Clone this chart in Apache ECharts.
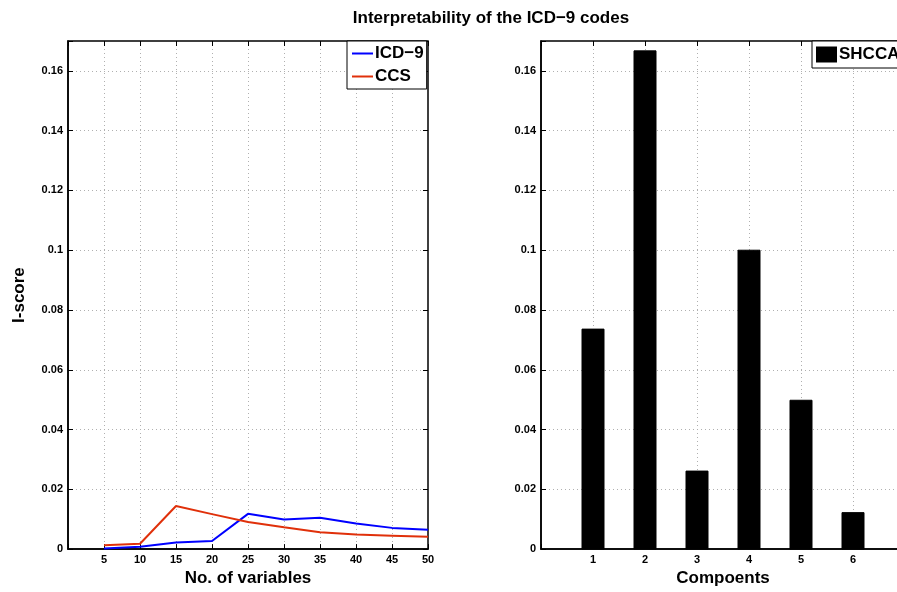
<!DOCTYPE html>
<html>
<head>
<meta charset="utf-8">
<script src="https://cdn.jsdelivr.net/npm/echarts@6/dist/echarts.min.js"></script>
<style>
  html, body { margin: 0; padding: 0; background: #fff; overflow: hidden; }
  /* right panel runs past the window edge, like the cropped original */
  #main { width: 920px; height: 592px; }
</style>
</head>
<body>
<div id="main"></div>
<script>
// left panel: I-score vs number of variables
const numVars = [5, 10, 15, 20, 25, 30, 35, 40, 45, 50]
const icd9 = [0.0002, 0.0008, 0.0022, 0.0027, 0.0118, 0.0099, 0.0105, 0.0086, 0.0071, 0.0065]
const ccs = [0.0013, 0.0018, 0.0144, 0.0117, 0.0091, 0.0073, 0.0056, 0.0049, 0.0045, 0.0041]
// right panel: bars per component
const components = [1, 2, 3, 4, 5, 6]
const shcca = [0.0736, 0.1667, 0.0261, 0.1000, 0.0498, 0.0122]

const font = 'Liberation Sans, Arial, sans-serif'
const dotted = { show: true, showMinLine: false, showMaxLine: false, lineStyle: { color: '#b0b0b0', type: [1, 3], width: 1 } }
const tickStyle = { show: true, inside: true, length: 5, lineStyle: { color: '#000' } }
const nameStyle = { fontFamily: font, fontWeight: 'bold', fontSize: 17, color: '#000' }
const blackLine = { show: true, onZero: false, lineStyle: { color: '#000', width: 1.5 } }

function yFmt(v) {
  if (Math.abs(v - 0.17) < 1e-9) return ''
  if (v === 0) return '0'
  return String(+v.toFixed(2))
}

function yAxisOf(idx, name) {
  return {
    type: 'value', gridIndex: idx, position: 'left', min: 0, max: 0.17, interval: 0.02,
    name: name, nameLocation: 'middle', nameGap: 40, nameRotate: 90,
    nameTextStyle: nameStyle,
    axisLine: blackLine,
    axisTick: tickStyle,
    axisLabel: { formatter: yFmt, fontFamily: font, fontWeight: 'bold', fontSize: 11, color: '#000', margin: 5 },
    splitLine: dotted
  }
}

// matlab-style mirrored ticks on the top / right edges of each box
function mirrorX(idx, max, interval) {
  return {
    type: 'value', gridIndex: idx, position: 'top', min: 0, max: max, interval: interval,
    axisLine: { show: false, onZero: false }, axisTick: tickStyle, axisLabel: { show: false }, splitLine: { show: false }
  }
}
function mirrorY(idx) {
  return {
    type: 'value', gridIndex: idx, position: 'right', min: 0, max: 0.17, interval: 0.02,
    axisLine: { show: false, onZero: false }, axisTick: tickStyle, axisLabel: { show: false }, splitLine: { show: false }
  }
}

let option = {
  animation: false,
  backgroundColor: '#fff',
  title: {
    text: 'Interpretability of the ICD\u22129 codes',
    left: 486, top: 5, textAlign: 'center',
    textStyle: { fontFamily: font, fontWeight: 'bold', fontSize: 17, color: '#000' }
  },
  legend: [
    {
      data: ['ICD\u22129', 'CCS'],
      left: 347, top: 41, orient: 'vertical',
      icon: 'rect', itemWidth: 21, itemHeight: 2, itemGap: 6,
      padding: [4, 3, 4, 5],
      borderColor: '#000', borderWidth: 1, backgroundColor: '#fff',
      textStyle: { fontFamily: font, fontWeight: 'bold', fontSize: 17, color: '#000', padding: [0, 0, 0, -3] }
    },
    {
      data: ['SHCCA'],
      left: 812, top: 41,
      icon: 'rect', itemWidth: 21, itemHeight: 16,
      padding: [5, 6, 5, 4],
      borderColor: '#000', borderWidth: 1, backgroundColor: '#fff',
      textStyle: { fontFamily: font, fontWeight: 'bold', fontSize: 17, color: '#000', padding: [0, 0, 0, -3] }
    }
  ],
  grid: [
    { left: 68, top: 41, width: 360, bottom: 37, show: true, borderColor: '#000', borderWidth: 1.5 },
    { left: 541, top: 41, width: 364, bottom: 37, show: true, borderColor: '#000', borderWidth: 1.5 }
  ],
  xAxis: [
    {
      type: 'value', gridIndex: 0, position: 'bottom', min: 0, max: 50, interval: 5,
      name: 'No. of variables', nameLocation: 'middle', nameGap: 16,
      nameTextStyle: nameStyle,
      axisLine: blackLine,
      axisTick: tickStyle,
      axisLabel: { formatter: v => v === 0 ? '' : String(v), fontFamily: font, fontWeight: 'bold', fontSize: 11, color: '#000', margin: 5 },
      splitLine: dotted
    },
    {
      type: 'value', gridIndex: 1, position: 'bottom', min: 0, max: 7, interval: 1,
      name: 'Compoents', nameLocation: 'middle', nameGap: 16,
      nameTextStyle: nameStyle,
      axisLine: blackLine,
      axisTick: tickStyle,
      axisLabel: { formatter: v => (v === 0 || v === 7) ? '' : String(v), fontFamily: font, fontWeight: 'bold', fontSize: 11, color: '#000', margin: 5 },
      splitLine: dotted
    },
    mirrorX(0, 50, 5),
    mirrorX(1, 7, 1)
  ],
  yAxis: [yAxisOf(0, 'I-score'), yAxisOf(1, ''), mirrorY(0), mirrorY(1)],
  series: [
    {
      name: 'ICD\u22129', type: 'line', xAxisIndex: 0, yAxisIndex: 0,
      data: numVars.map((x, i) => [x, icd9[i]]),
      showSymbol: false, symbol: 'none',
      lineStyle: { color: '#0000ff', width: 2 }, itemStyle: { color: '#0000ff' }
    },
    {
      name: 'CCS', type: 'line', xAxisIndex: 0, yAxisIndex: 0,
      data: numVars.map((x, i) => [x, ccs[i]]),
      showSymbol: false, symbol: 'none',
      lineStyle: { color: '#e0300a', width: 2 }, itemStyle: { color: '#e0300a' }
    },
    {
      name: 'SHCCA', type: 'bar', xAxisIndex: 1, yAxisIndex: 1,
      data: components.map((x, i) => [x, shcca[i]]),
      barWidth: 22,
      itemStyle: { color: '#000', borderColor: '#000' }
    }
  ]
}

let myChart = echarts.init(document.getElementById('main'))
myChart.setOption(option)
</script>
</body>
</html>
